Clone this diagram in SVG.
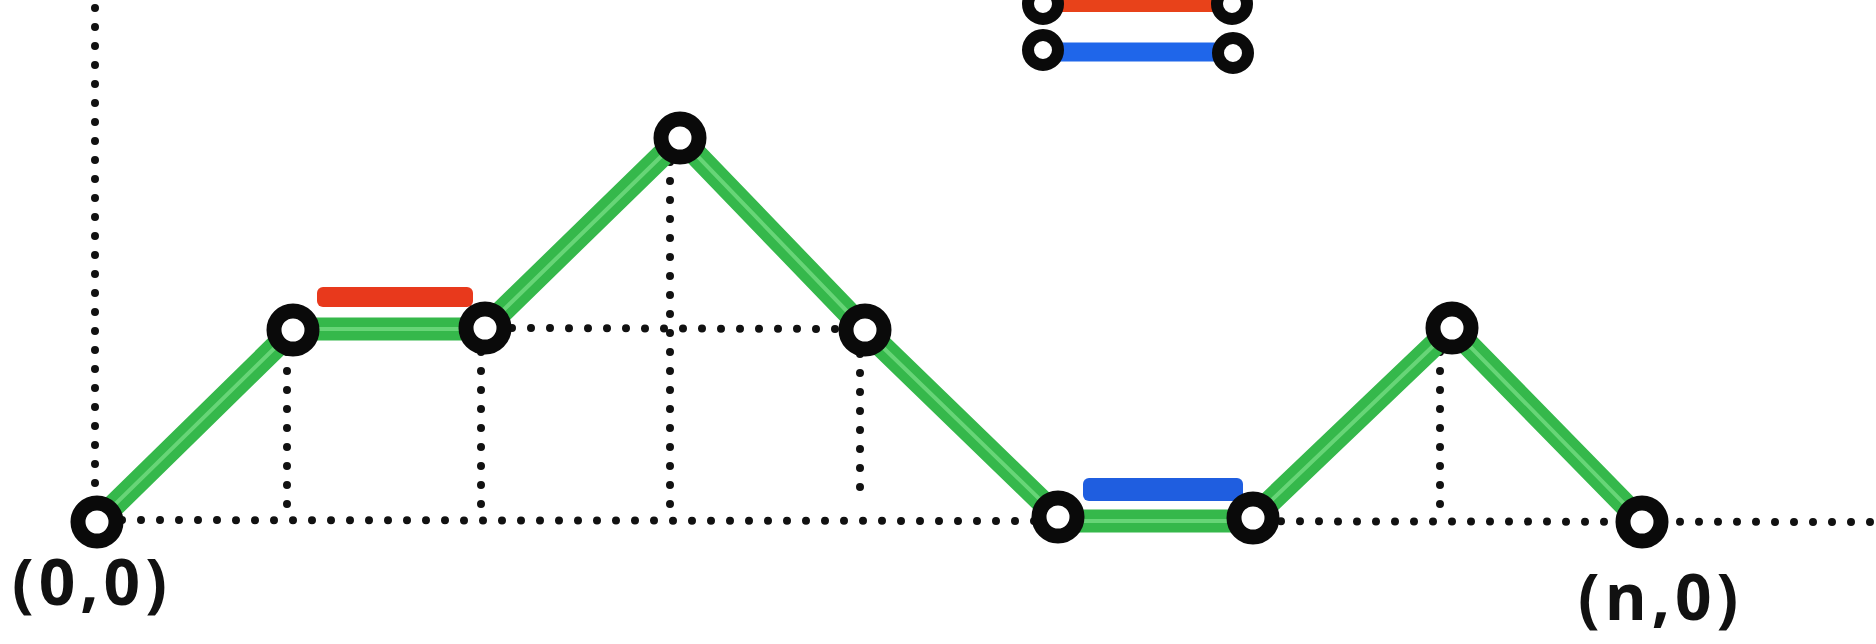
<svg xmlns="http://www.w3.org/2000/svg" width="1876" height="644" viewBox="0 0 1876 644">
  <style>
    .dot { fill: none; stroke: #111; stroke-width: 8; stroke-linecap: round; stroke-dasharray: 0 19; }
    .g { stroke: #35b84b; stroke-width: 23; stroke-linecap: round; fill: none; }
    .gi { stroke: #74dc82; stroke-width: 4; stroke-linecap: round; fill: none; opacity: 0.8; }
    .node { fill: #fff; stroke: #0a0a0a; stroke-width: 15; }
    .lnode { fill: #fff; stroke: #0a0a0a; stroke-width: 12; }
    .lbl { font-family: "Open Sans", "Liberation Sans", sans-serif; font-weight: bold; font-size: 64px; fill: #111; letter-spacing: 5px; }
  </style>
  <rect width="1876" height="644" fill="#fff"/>

  <g id="guides">
    <line class="dot" x1="95" y1="8" x2="95" y2="505"/>
    <line class="dot" x1="122" y1="520" x2="1876" y2="522"/>
    <line class="dot" x1="287" y1="352" x2="287" y2="505"/>
    <line class="dot" x1="481" y1="352" x2="481" y2="505"/>
    <line class="dot" x1="670" y1="162" x2="670" y2="505"/>
    <line class="dot" x1="860" y1="354" x2="860" y2="505"/>
    <line class="dot" x1="1440" y1="352" x2="1440" y2="505"/>
    <line class="dot" x1="512" y1="328" x2="842" y2="329"/>
  </g>

  <g id="connectors">
    <line class="g" x1="97" y1="522" x2="293" y2="330"/>
    <line class="g" x1="293" y1="329" x2="485" y2="329"/>
    <line class="g" x1="485" y1="328" x2="680" y2="138"/>
    <line class="g" x1="680" y1="138" x2="865" y2="330"/>
    <line class="g" x1="865" y1="330" x2="1058" y2="517"/>
    <line class="g" x1="1058" y1="521" x2="1253" y2="521"/>
    <line class="g" x1="1253" y1="518" x2="1452" y2="328"/>
    <line class="g" x1="1452" y1="328" x2="1642" y2="522"/>
    <line class="gi" x1="97" y1="522" x2="293" y2="330"/>
    <line class="gi" x1="293" y1="329" x2="485" y2="329"/>
    <line class="gi" x1="485" y1="328" x2="680" y2="138"/>
    <line class="gi" x1="680" y1="138" x2="865" y2="330"/>
    <line class="gi" x1="865" y1="330" x2="1058" y2="517"/>
    <line class="gi" x1="1058" y1="521" x2="1253" y2="521"/>
    <line class="gi" x1="1253" y1="518" x2="1452" y2="328"/>
    <line class="gi" x1="1452" y1="328" x2="1642" y2="522"/>
    <rect id="red-bar" x="317" y="287" width="156" height="20" rx="6" fill="#e8391c"/>
    <rect id="blue-bar" x="1083" y="478" width="160" height="23" rx="6" fill="#1f5ee0"/>
  </g>

  <g id="legend">
    <line x1="1043" y1="3" x2="1232" y2="3" stroke="#e8421a" stroke-width="18"/>
    <line x1="1043" y1="52" x2="1233" y2="52" stroke="#1f66ea" stroke-width="19"/>
    <circle class="lnode" cx="1043" cy="4" r="15"/>
    <circle class="lnode" cx="1232" cy="4" r="15"/>
    <circle class="lnode" cx="1043" cy="50" r="15"/>
    <circle class="lnode" cx="1233" cy="53" r="15"/>
  </g>

  <g id="n1"><circle class="node" cx="97" cy="522" r="19"/></g>
  <g id="n2"><circle class="node" cx="293" cy="330" r="19"/></g>
  <g id="n3"><circle class="node" cx="485" cy="328" r="19"/></g>
  <g id="n4"><circle class="node" cx="680" cy="138" r="19"/></g>
  <g id="n5"><circle class="node" cx="865" cy="330" r="19"/></g>
  <g id="n6"><circle class="node" cx="1058" cy="517" r="19"/></g>
  <g id="n7"><circle class="node" cx="1253" cy="518" r="19"/></g>
  <g id="n8"><circle class="node" cx="1452" cy="328" r="19"/></g>
  <g id="n9"><circle class="node" cx="1642" cy="522" r="19"/></g>

  <g id="labels">
    <text class="lbl" x="12" y="605">(0,0)</text>
    <text class="lbl" x="1578" y="620">(n,0)</text>
  </g>
</svg>
